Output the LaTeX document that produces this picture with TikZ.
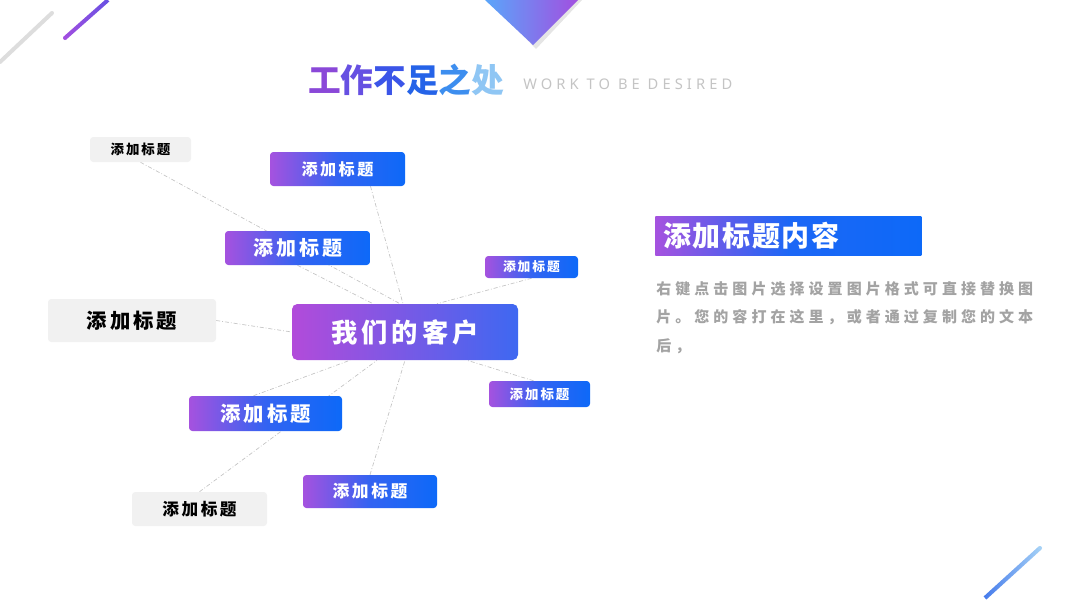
\documentclass[tikz,border=0pt]{standalone}
\usepackage{fontspec}
\setmainfont{Noto Sans CJK SC}
\newfontfamily\titlefont{Noto Sans CJK SC}[LetterSpace=10]
\newfontfamily\cardfont{Noto Sans CJK SC}[LetterSpace=15]
\newfontfamily\headfont{Noto Sans CJK SC}[LetterSpace=6]
\newfontfamily\bodyfont{Noto Sans CJK SC}[LetterSpace=27]
\newfontfamily\latinfont{Noto Sans}[LetterSpace=28]
\usetikzlibrary{backgrounds,calc}
\definecolor{gpurple}{HTML}{A552DF}
\definecolor{gblue}{HTML}{0D69F8}
\definecolor{hubpurple}{HTML}{B24BDA}
\definecolor{hubblue}{HTML}{3E68F1}
\definecolor{paper}{HTML}{F1F1F1}
\definecolor{rulegray}{HTML}{DDDDDD}
\definecolor{linkgray}{HTML}{C4C4C4}
\definecolor{bodygray}{HTML}{A3A3A3}
\definecolor{subgray}{HTML}{C4C4C4}
\definecolor{trisky}{HTML}{5AA6FA}
\definecolor{triblue}{HTML}{1A5FF0}
\definecolor{tripurple}{HTML}{A24FE0}
\definecolor{tA}{HTML}{8A48D8}
\definecolor{tB}{HTML}{6650E2}
\definecolor{tC}{HTML}{3B55E8}
\definecolor{tD}{HTML}{2563E8}
\definecolor{tE}{HTML}{3D8EEF}
\definecolor{tF}{HTML}{8FC6F4}

\begin{document}
\begin{tikzpicture}[
  x=0.75pt, y=-0.75pt,
  card/.style={rounded corners=2.5pt, left color=gpurple, right color=gblue, middle color=gblue!75!gpurple, text=white, inner sep=0pt, font=\cardfont\bfseries\fontsize{#1}{#1}\selectfont},
  plain/.style={rounded corners=2.5pt, fill=paper, text=black, inner sep=0pt, font=\cardfont\bfseries\fontsize{#1}{#1}\selectfont},
  hub/.style={rounded corners=4pt, left color=hubpurple, right color=hubblue, text=white, inner sep=0pt, font=\cardfont\bfseries\fontsize{#1}{#1}\selectfont},
  link/.style={draw=linkgray, line width=0.5pt, dash pattern=on 3pt off 1.5pt on 0.6pt off 1.5pt}
]
\useasboundingbox (0,0) rectangle (1067,600);

% decorations
\draw[rulegray, line width=3pt, line cap=round] (0,62) -- (52,13);
\shade[left color=tripurple, right color=tB] (63.7,36.5) -- (106.7,-1.5) -- (109.3,1.5) -- (66.3,39.5) -- cycle;
\fill[tripurple] (65,38) circle (1.5pt);
\fill[black, opacity=.10] (489,0) -- (582,0) -- (536,49) -- cycle;
\shade[left color=trisky, middle color=triblue, right color=tripurple] (485,0) -- (578,0) -- (533,45) -- cycle;
\shade[left color=tD!85!white, right color=tF!80!white] (983.6,596.5) -- (1038.6,546.5) -- (1041.4,549.5) -- (986.4,599.5) -- cycle;
\fill[tF!80!white] (1040,548) circle (1.5pt);

% title
\node[anchor=west, inner sep=0pt, font=\titlefont\bfseries\fontsize{24.5pt}{24.5pt}\selectfont] (title) at (308,80)
  {\textcolor{tA}{工}\textcolor{tB}{作}\textcolor{tC}{不}\textcolor{tD}{足}\textcolor{tE}{之}\textcolor{tF}{处}};
\node[anchor=west, inner sep=0pt, text=subgray, font=\latinfont\fontsize{11pt}{11pt}\selectfont] (subtitle) at (523,84) {WORK TO BE DESIRED};

% map
\node[hub=19.7pt, minimum width=169.5pt, minimum height=42pt] (core) at (405,332) {我们的客户};
\node[plain=10.1pt, minimum width=75.75pt, minimum height=18.75pt] (g1) at (140.5,149.5) {添加标题};
\node[card=12.1pt, minimum width=101.25pt, minimum height=25.5pt] (b2) at (337.5,169) {添加标题};
\node[card=15pt, minimum width=108.75pt, minimum height=25.5pt] (b3) at (297.5,248) {添加标题};
\node[card=9.6pt, minimum width=69.75pt, minimum height=16.5pt] (b4) at (531.5,267) {添加标题};
\node[plain=15.3pt, minimum width=126pt, minimum height=32.25pt] (g5) at (132,320.5) {添加标题};
\node[card=15.3pt, minimum width=114.75pt, minimum height=26.25pt] (b6) at (265.5,413.5) {添加标题};
\node[card=10.1pt, minimum width=75.75pt, minimum height=19.5pt] (b7) at (539.5,394) {添加标题};
\node[card=12.6pt, minimum width=100.5pt, minimum height=24.75pt] (b8) at (370,491.5) {添加标题};
\node[plain=12.5pt, minimum width=101.25pt, minimum height=25.5pt] (g9) at (199.5,509) {添加标题};

\begin{pgfonlayer}{background}
\fill[white] (0,0) rectangle (1067,600);
\draw[link] (g1.south) -- ($(core.north)+(-5,0)$);
\draw[link] (b2.south) ++(33,0) -- ($(core.north)+(-2,0)$);
\draw[link] (b3.south) -- ($(core.north)+(-32,0)$);
\draw[link] (b4.south) -- ($(core.north)+(32,0)$);
\draw[link] (g5.east) -- (core.west);
\draw[link] ($(b6.north)+(-12,0)$) -- ($(core.south)+(-55,0)$);
\draw[link] (g9.north) -- ($(core.south)+(-28,0)$);
\draw[link] (b8.north) -- (core.south);
\draw[link] ($(b7.north)+(-6,0)$) -- ($(core.south)+(62,0)$);
\end{pgfonlayer}

% text block
\node[card=21pt, anchor=west, rounded corners=0pt, inner xsep=6pt, text width=187.5pt, minimum height=29.25pt, align=left, middle color=gblue!90!gpurple, font=\headfont\bfseries\fontsize{21pt}{21pt}\selectfont] (head) at (655,235.5) {添加标题内容};
\node[anchor=north west, inner sep=0pt, text=bodygray, align=left, font=\bodyfont\bfseries\fontsize{11.25pt}{21.4pt}\selectfont] (desc) at (656,281)
  {右键点击图片选择设置图片格式可直接替换图\\片。您的容打在这里，或者通过复制您的文本\\后，};
\end{tikzpicture}
\end{document}
